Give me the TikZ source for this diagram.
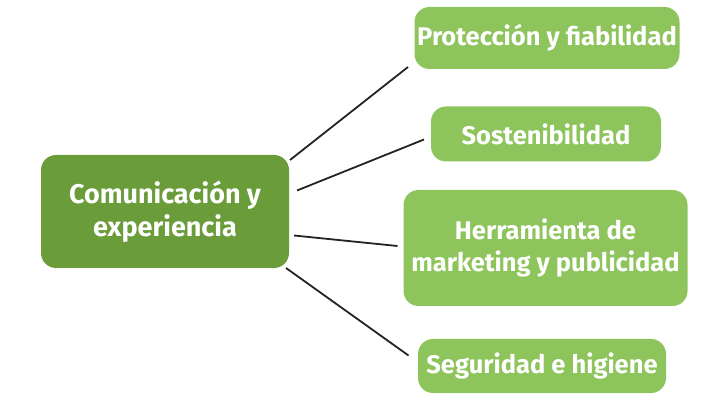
\documentclass[tikz,border=0pt]{standalone}
\usepackage{fontspec}
\setmainfont{Fira Sans}
\definecolor{darkg}{RGB}{106,156,58}
\definecolor{lightg}{RGB}{142,196,92}
\definecolor{linec}{RGB}{35,35,35}
\tikzset{
  box/.style={rounded corners=15pt, text=white, align=center, inner sep=0pt,
    font=\fontsize{25.5}{32}\selectfont\bfseries},
  mainbox/.style={box, fill=darkg, font=\fontsize{27}{33}\selectfont\bfseries},
  subbox/.style={box, fill=lightg},
  conn/.style={draw=linec, line width=1.8pt}
}
\begin{document}
\begin{tikzpicture}[x=1pt,y=-1pt]
\useasboundingbox[fill=white] (0,0) rectangle (723,403);
\node[mainbox, minimum width=248pt, minimum height=113pt] (c) at (165,211.5) {Comunicación y\\experiencia};
\node[subbox, minimum width=265pt, minimum height=62pt] (n1) at (547,38) {Protección y fiabilidad};
\node[subbox, minimum width=230pt, minimum height=55pt] (n2) at (546,134) {Sostenibilidad};
\node[subbox, minimum width=284pt, minimum height=116pt] (n3) at (545.5,248) {Herramienta de\\marketing y publicidad};
\node[subbox, minimum width=248pt, minimum height=54pt] (n4) at (542,366) {Seguridad e higiene};
\coordinate (c1) at (290,160);
\coordinate (c2) at (297,190.5);
\coordinate (c3) at (294,235.5);
\coordinate (c4) at (286,268);
\coordinate (e1) at (408,67);
\coordinate (e2) at (424,139.5);
\coordinate (e3) at (397.5,246);
\coordinate (e4) at (408.5,355.5);
\draw[conn] (c1) -- (e1);
\draw[conn] (c2) -- (e2);
\draw[conn] (c3) -- (e3);
\draw[conn] (c4) -- (e4);
\end{tikzpicture}
\end{document}
